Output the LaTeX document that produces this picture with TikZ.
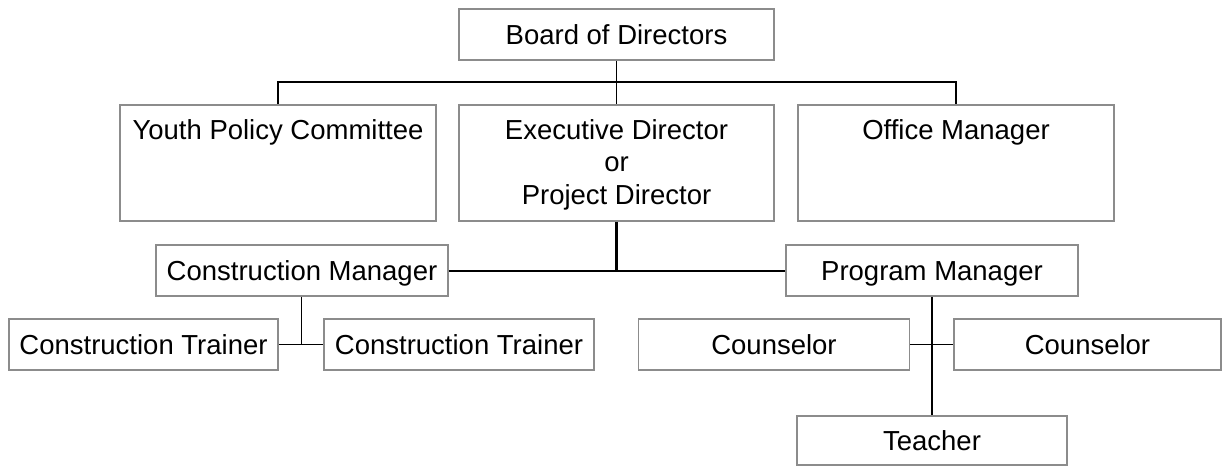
\documentclass[tikz,border=0pt]{standalone}
\usepackage{fontspec}
\setmainfont{Liberation Sans}
\definecolor{boxgray}{RGB}{140,140,140}
\begin{document}
\begin{tikzpicture}[x=1pt,y=-1pt,
  box/.style={draw=boxgray, line width=1.6pt, fill=white, inner sep=0pt,
    font=\fontsize{27.5}{32.5}\selectfont, text height=19.7pt, text depth=0pt},
  lbl/.style={inner sep=0pt, anchor=base, font=\fontsize{27.5}{32.5}\selectfont},
  conn/.style={draw=black, line width=1.6pt},
  thick conn/.style={draw=black, line width=2.4pt}]
\useasboundingbox (0,0) rectangle (1223,466);
% boxes
\node[box, minimum width=315pt, minimum height=51pt] (board) at (616.5,34.5) {Board of Directors};
\node[box, minimum width=316pt, minimum height=116pt] (youth) at (278,163) {};
\node[box, minimum width=315pt, minimum height=116pt] (exec) at (616.5,163) {};
\node[box, minimum width=316pt, minimum height=116pt] (office) at (956,163) {};
\node[box, minimum width=292pt, minimum height=51pt] (cm) at (302,270.5) {Construction Manager};
\node[box, minimum width=292pt, minimum height=51pt] (pm) at (932,270.5) {Program Manager};
\node[box, minimum width=269pt, minimum height=51pt] (t1) at (143.5,344.5) {Construction Trainer};
\node[box, minimum width=270pt, minimum height=51pt] (t2) at (459,344.5) {Construction Trainer};
\node[box, minimum width=271pt, minimum height=51pt] (c1) at (774,344.5) {Counselor};
\node[box, minimum width=267pt, minimum height=51pt] (c2) at (1087.5,344.5) {Counselor};
\node[box, minimum width=270pt, minimum height=49pt] (teacher) at (932,440.5) {Teacher};
% texts in tall boxes
\node[lbl] (youthT) at (278,139.3) {Youth Policy Committee};
\node[lbl] (officeT) at (956,139.3) {Office Manager};
\node[lbl] (execT1) at (616.5,139.3) {Executive Director};
\node[lbl] (execT2) at (616.5,171.7) {or};
\node[lbl] (execT3) at (616.5,204) {Project Director};
% connectors
\coordinate (bus) at (616.5,82);
\draw[conn] (board.south) -- (exec.north);
\draw[conn] (youth.north) -- (youth.north |- bus) -- (office.north |- bus) -- (office.north);
\coordinate (mid) at (616.5,270);
\draw[thick conn] (exec.south) -- (mid);
\draw[conn, line width=2pt] (cm.east) -- (pm.west);
\coordinate (tj) at (301.5,344.5);
\draw[conn, line width=1.8pt] (cm.south -| tj) -- (tj);
\draw[conn, line width=1.8pt] (t1.east) -- (t2.west);
\coordinate (cj) at (932,344.5);
\draw[thick conn, line width=2.8pt] (pm.south) -- (cj);
\draw[conn] (cj) -- (teacher.north);
\draw[conn, line width=1.8pt] (c1.east) -- (c2.west);
\end{tikzpicture}
\end{document}
